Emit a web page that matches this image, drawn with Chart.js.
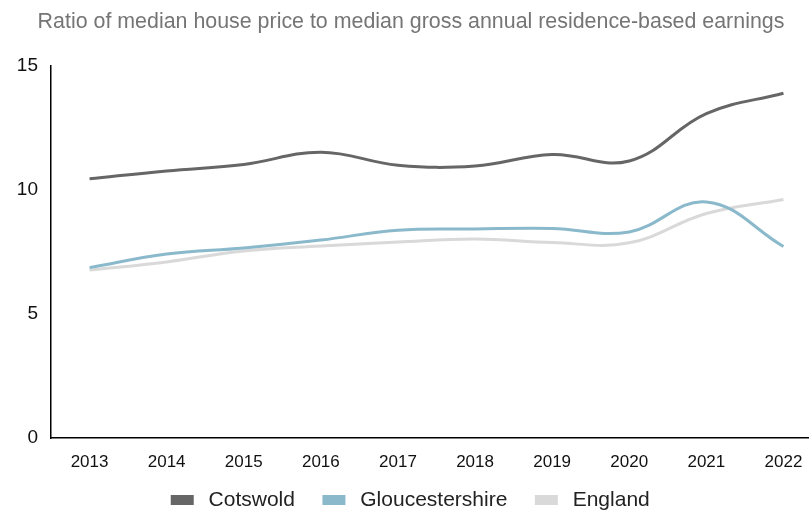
<!DOCTYPE html>
<html>
<head>
<meta charset="utf-8">
<script src="https://cdn.jsdelivr.net/npm/chart.js@4"></script>
<style>
  html, body { margin: 0; padding: 0; background: #fff; overflow: hidden; }
  #crop { width: 809px; height: 511px; overflow: hidden; }
  #wrap { width: 832px; height: 511px; position: relative; }
</style>
</head>
<body>
<div id="crop"><div id="wrap"><canvas id="ratioChart"></canvas></div></div>
<script>
// Data
const years = ['2013', '2014', '2015', '2016', '2017', '2018', '2019', '2020', '2021', '2022'];
const cotswold = [10.45, 10.77, 11.03, 11.52, 11.0, 10.97, 11.43, 11.17, 13.08, 13.9];
const gloucestershire = [6.87, 7.42, 7.66, 7.98, 8.38, 8.43, 8.45, 8.31, 9.52, 7.72];
const england = [6.77, 7.1, 7.54, 7.74, 7.9, 8.02, 7.88, 7.87, 9.05, 9.62];
const yTicks = [0, 5, 10, 15];

// Legend box is kept short and then lifted a bit, like the original
const legendPlace = {
    id: 'legendPlace',
    beforeInit(chart) {
        const fit = chart.legend.fit;
        chart.legend.fit = function () {
            fit.bind(chart.legend)();
            this.height = 37;
        };
    },
    afterLayout(chart) {
        const legend = chart.legend;
        legend.top = 460.5;
        legend.bottom = chart.height;
        legend.height = legend.bottom - legend.top;
    }
};

const ctx = document.getElementById('ratioChart').getContext('2d');

new Chart(ctx, {
    type: 'line',
    data: {
        labels: years,
        datasets: [
            { label: 'Cotswold', data: cotswold, borderColor: '#666666', backgroundColor: '#666666' },
            { label: 'Gloucestershire', data: gloucestershire, borderColor: '#8bb9cc', backgroundColor: '#8bb9cc' },
            { label: 'England', data: england, borderColor: '#d9d9d9', backgroundColor: '#d9d9d9' }
        ]
    },
    options: {
        responsive: true,
        maintainAspectRatio: false,
        animation: false,
        layout: { padding: { left: 0, right: 10, top: 0, bottom: 0 } },
        elements: {
            line: { borderWidth: 3, tension: 0.4 },
            point: { radius: 0 }
        },
        scales: {
            x: {
                offset: true,
                afterFit: scale => { scale.height = 36; },
                grid: { display: false, drawTicks: false, offset: true },
                border: { color: '#000', width: 1.5 },
                ticks: {
                    color: '#111',
                    font: { family: 'Liberation Sans', size: 17 },
                    padding: 14,
                    maxRotation: 0,
                    autoSkip: false
                }
            },
            y: {
                min: 0,
                max: 15,
                afterFit: scale => { scale.width = 51; },
                afterBuildTicks: axis => { axis.ticks = yTicks.map(v => ({ value: v })); },
                grid: { display: false, drawTicks: false },
                border: { color: '#000', width: 1.5 },
                ticks: {
                    color: '#111',
                    font: { family: 'Liberation Sans', size: 19 },
                    padding: 13
                }
            }
        },
        plugins: {
            title: {
                display: true,
                text: 'Ratio of median house price to median gross annual residence-based earnings',
                color: '#757575',
                font: { family: 'Liberation Sans', size: 21.4, weight: 'normal' },
                padding: { top: 9.2, bottom: 31.1 }
            },
            legend: {
                position: 'bottom',
                labels: {
                    boxWidth: 20,
                    boxHeight: 7,
                    padding: 29,
                    color: '#222',
                    font: { family: 'Liberation Sans', size: 21 },
                    generateLabels: chart => Chart.defaults.plugins.legend.labels.generateLabels(chart)
                        .map(item => ({ ...item, text: ' ' + item.text }))
                }
            },
            tooltip: { enabled: false }
        }
    },
    plugins: [legendPlace]
});
</script>
</body>
</html>
